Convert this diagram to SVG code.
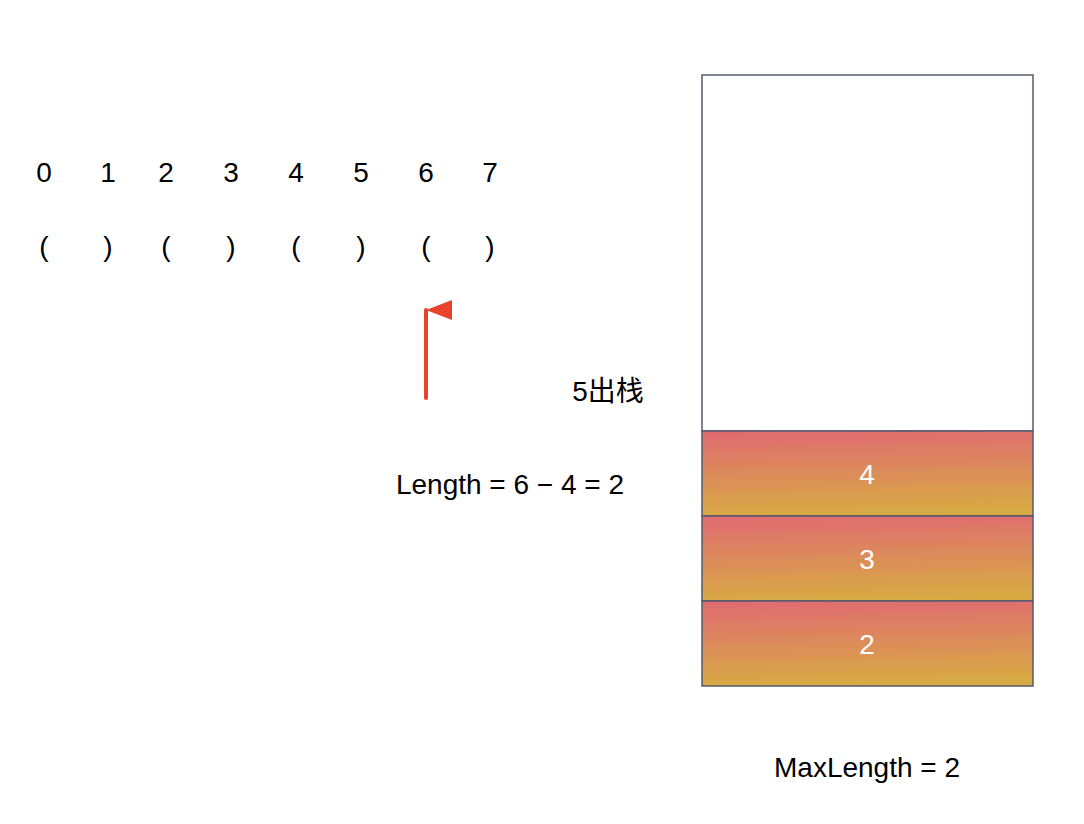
<svg xmlns="http://www.w3.org/2000/svg" width="1084" height="824" viewBox="0 0 1084 824">
<defs>
<linearGradient id="g" x1="0" y1="0" x2="0.1" y2="1"><stop offset="0" stop-color="#e06a72"/><stop offset="1" stop-color="#d8aa44"/></linearGradient>
<marker id="ah" markerWidth="22" markerHeight="28" refX="10" refY="0" orient="auto-start-reverse" markerUnits="userSpaceOnUse" viewBox="0 -2 20 28"><path d="M0 26 L10 0 L20 26 Z" fill="#e8432d"/></marker>
<style>text{font-family:"Liberation Sans","Noto Sans CJK SC",sans-serif;font-size:28px;fill:#000;text-anchor:middle}.w{fill:#fff}.c{stroke:#555a70;stroke-width:1.5}</style>
</defs>
<rect width="1084" height="824" fill="#fff"/>
<g id="indices">
<text x="44" y="182">0</text><text x="108" y="182">1</text><text x="166" y="182">2</text><text x="231" y="182">3</text><text x="296" y="182">4</text><text x="361" y="182">5</text><text x="426" y="182">6</text><text x="490" y="182">7</text>
</g>
<g id="parens">
<text x="44" y="256">(</text><text x="108" y="256">)</text><text x="166" y="256">(</text><text x="231" y="256">)</text><text x="296" y="256">(</text><text x="361" y="256">)</text><text x="426" y="256">(</text><text x="490" y="256">)</text>
</g>
<g id="stack">
<rect x="702" y="75" width="331" height="356" fill="#fff" class="c"/>
<g id="s4"><rect x="702" y="431" width="331" height="85" fill="url(#g)" class="c"/><text class="w" x="867" y="484">4</text></g>
<g id="s3"><rect x="702" y="516" width="331" height="85" fill="url(#g)" class="c"/><text class="w" x="867" y="569">3</text></g>
<g id="s2"><rect x="702" y="601" width="331" height="85" fill="url(#g)" class="c"/><text class="w" x="867" y="654">2</text></g>
</g>
<g id="labels">
<text x="608" y="401">5出栈</text>
<text x="510" y="494">Length = 6 − 4 = 2</text>
<text x="867" y="777">MaxLength = 2</text>
</g>
<g id="connectors">
<line x1="426" y1="398" x2="426" y2="310" stroke="#e8432d" stroke-width="4" stroke-linecap="round" marker-end="url(#ah)"/>
</g>
</svg>
